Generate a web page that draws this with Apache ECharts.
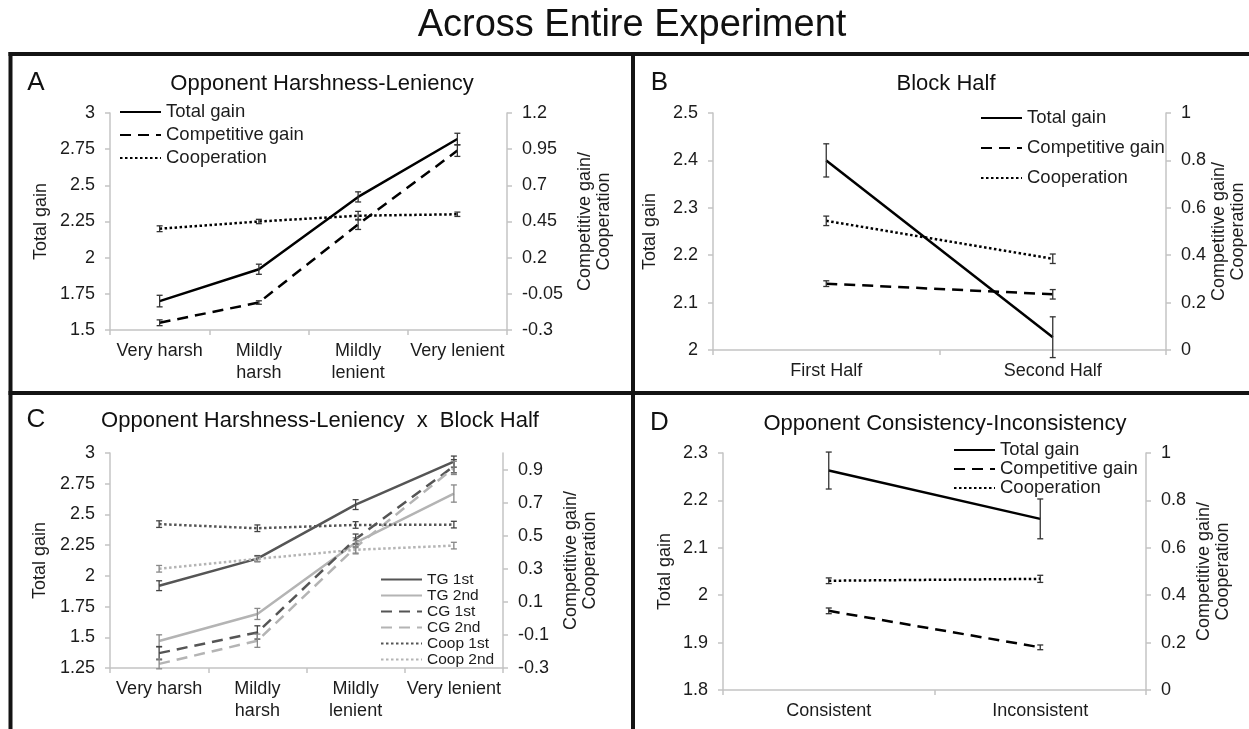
<!DOCTYPE html>
<html><head><meta charset="utf-8">
<script src="https://cdn.jsdelivr.net/npm/echarts@6/dist/echarts.min.js"></script>
<style>html,body{margin:0;padding:0;background:#fff}#c{width:1249px;height:729px}</style>
</head><body><div id="c"></div>
<script>
const FONT = '"Liberation Sans", Arial, Helvetica, sans-serif';
const TXT = '#1c1c1c';
const AXC = '#c4c4c4';

// ---------- categories ----------
const catsHL = ['Very harsh', 'Mildly\nharsh', 'Mildly\nlenient', 'Very lenient'];
const catsHalf = ['First Half', 'Second Half'];
const catsCons = ['Consistent', 'Inconsistent'];

// ---------- Panel A: Opponent Harshness-Leniency ----------
const aTotalGain = [1.70, 1.92, 2.42, 2.82];
const aTotalGainErr = [0.04, 0.035, 0.035, 0.04];
const aCompGain = [-0.25, -0.11, 0.43, 0.94];
const aCompGainErr = [0.02, 0.012, 0.035, 0.04];
const aCoop = [0.40, 0.45, 0.49, 0.50];
const aCoopErr = [0.02, 0.015, 0.03, 0.015];
const aLeftTicks = [1.5, 1.75, 2, 2.25, 2.5, 2.75, 3];
const aRightTicks = [-0.3, -0.05, 0.2, 0.45, 0.7, 0.95, 1.2];

// ---------- Panel B: Block Half ----------
const bTotalGain = [2.40, 2.027];
const bTotalGainErr = [0.035, 0.043];
const bCompGain = [0.28, 0.235];
const bCompGainErr = [0.012, 0.02];
const bCoop = [0.545, 0.385];
const bCoopErr = [0.02, 0.02];
const bLeftTicks = [2, 2.1, 2.2, 2.3, 2.4, 2.5];
const bRightTicks = [0, 0.2, 0.4, 0.6, 0.8, 1];

// ---------- Panel C: Harshness-Leniency x Block Half ----------
const cTG1 = [1.92, 2.14, 2.58, 2.93];
const cTG1Err = [0.04, 0.025, 0.04, 0.045];
const cTG2 = [1.47, 1.69, 2.27, 2.67];
const cTG2Err = [0.05, 0.045, 0.04, 0.07];
const cCG1 = [-0.21, -0.085, 0.48, 0.92];
const cCG1Err = [0.04, 0.04, 0.03, 0.04];
const cCG2 = [-0.275, -0.135, 0.43, 0.91];
const cCG2Err = [0.03, 0.04, 0.04, 0.04];
const cCoop1 = [0.57, 0.545, 0.565, 0.567];
const cCoop1Err = [0.02, 0.02, 0.02, 0.02];
const cCoop2 = [0.30, 0.36, 0.415, 0.44];
const cCoop2Err = [0.02, 0.015, 0.02, 0.02];
const cLeftTicks = [1.25, 1.5, 1.75, 2, 2.25, 2.5, 2.75, 3];
const cRightTicks = [-0.3, -0.1, 0.1, 0.3, 0.5, 0.7, 0.9];
const cRightMax = 1.0;

// ---------- Panel D: Consistency-Inconsistency ----------
const dTotalGain = [2.263, 2.161];
const dTotalGainErr = [0.039, 0.042];
const dCompGain = [0.334, 0.18];
const dCompGainErr = [0.012, 0.01];
const dCoop = [0.461, 0.469];
const dCoopErr = [0.012, 0.015];
const dLeftTicks = [1.8, 1.9, 2, 2.1, 2.2, 2.3];
const dRightTicks = [0, 0.2, 0.4, 0.6, 0.8, 1];

// ---------- styles ----------
const SOLID = 'solid', DASH = [11, 7], DOT = [2.5, 2.5];
const DARK = '#000000', CDARK = '#555555', CLIGHT = '#b4b4b4';

const fmt = v => String(+(+v).toFixed(2));

function xAx(cats, gi) {
  return {
    type: 'category', data: cats, gridIndex: gi, boundaryGap: true,
    axisLine: { show: true, onZero: false, lineStyle: { color: AXC, width: 1.5 } },
    axisTick: { show: true, length: 5, lineStyle: { color: AXC, width: 1.5 } },
    axisLabel: { fontFamily: FONT, fontSize: 18, lineHeight: 22, color: TXT, margin: 10, interval: 0 },
    splitLine: { show: false }
  };
}
function yAx(ticks, gi, pos, name, nameGap, maxOverride) {
  const max = maxOverride !== undefined ? maxOverride : ticks[ticks.length - 1];
  return {
    type: 'value', gridIndex: gi, position: pos,
    min: ticks[0], max: max, interval: +(ticks[1] - ticks[0]).toFixed(4),
    name: name, nameLocation: 'middle', nameGap: nameGap,
    nameTextStyle: { fontFamily: FONT, fontSize: 18, lineHeight: 19, color: TXT },
    axisLine: { show: true, onZero: false, lineStyle: { color: AXC, width: 1.5 } },
    axisTick: { show: true, length: 5, lineStyle: { color: AXC, width: 1.5 } },
    axisLabel: { fontFamily: FONT, fontSize: 18, color: TXT, margin: 15, formatter: fmt,
      showMaxLabel: maxOverride === undefined },
    splitLine: { show: false }
  };
}
function lineS(name, data, xi, yi, color, type, width) {
  return {
    type: 'line', name: name, data: data, xAxisIndex: xi, yAxisIndex: yi,
    symbol: 'none', showSymbol: false, silent: true, animation: false, z: 3,
    lineStyle: { color: color, width: width, type: type, cap: 'butt' },
    itemStyle: { color: color }
  };
}
function errS(vals, errs, xi, yi, color) {
  return {
    type: 'custom', xAxisIndex: xi, yAxisIndex: yi, silent: true, animation: false, z: 4,
    data: vals.map((v, i) => [i, v, errs[i]]),
    encode: { x: 0, y: 1 },
    renderItem: (p, api) => {
      const i = api.value(0), v = api.value(1), e = api.value(2);
      const t = api.coord([i, v + e]), b = api.coord([i, v - e]);
      const x = t[0], w = 3;
      const st = { stroke: color, lineWidth: 1.3 };
      return { type: 'group', children: [
        { type: 'line', shape: { x1: x, y1: t[1], x2: x, y2: b[1] }, style: st },
        { type: 'line', shape: { x1: x - w, y1: t[1], x2: x + w, y2: t[1] }, style: st },
        { type: 'line', shape: { x1: x - w, y1: b[1], x2: x + w, y2: b[1] }, style: st }
      ] };
    }
  };
}
function legendAt(names, left, top, fontSize, lineHeight) {
  return {
    data: names, orient: 'vertical', left: left, top: top, padding: 0,
    itemWidth: 41, itemHeight: 12, itemGap: 0, selectedMode: false,
    itemStyle: { opacity: 0, borderWidth: 0 },
    textStyle: { fontFamily: FONT, fontSize: fontSize, lineHeight: lineHeight, color: TXT }
  };
}
function txt(s, x, y, size, align) {
  return { type: 'text', x: x, y: y, silent: true,
    style: { text: s, fontFamily: FONT, fontSize: size, fill: '#111', align: align || 'center', verticalAlign: 'middle' } };
}
function bar(x, y, w, h) {
  return { type: 'rect', silent: true, shape: { x: x, y: y, width: w, height: h }, style: { fill: '#141414' } };
}

const mainNames = ['Total gain', 'Competitive gain', 'Cooperation'];
const rightName = 'Competitive gain/\nCooperation';

const option = {
  animation: false,
  backgroundColor: '#ffffff',
  grid: [
    { left: 110, top: 113, width: 397, height: 217 },
    { left: 713, top: 113, width: 453, height: 237 },
    { left: 110, top: 453, width: 393, height: 215 },
    { left: 723, top: 453, width: 423, height: 237 }
  ],
  xAxis: [xAx(catsHL, 0), xAx(catsHalf, 1), xAx(catsHL, 2), xAx(catsCons, 3)],
  yAxis: [
    yAx(aLeftTicks, 0, 'left', 'Total gain', 59),
    yAx(aRightTicks, 0, 'right', rightName, 69),
    yAx(bLeftTicks, 1, 'left', 'Total gain', 53),
    yAx(bRightTicks, 1, 'right', rightName, 42),
    yAx(cLeftTicks, 2, 'left', 'Total gain', 60),
    yAx(cRightTicks, 2, 'right', rightName, 59, cRightMax),
    yAx(dLeftTicks, 3, 'left', 'Total gain', 48),
    yAx(dRightTicks, 3, 'right', rightName, 49)
  ],
  legend: [
    legendAt(mainNames, 119, 100.5, 18.5, 23),
    legendAt(mainNames, 980, 103, 18.5, 30),
    legendAt(['TG 1st', 'TG 2nd', 'CG 1st', 'CG 2nd', 'Coop 1st', 'Coop 2nd'], 380, 571.5, 15.5, 15.8),
    legendAt(mainNames, 953, 440.5, 18.5, 18.5)
  ],
  series: [
    // A
    lineS('Total gain', aTotalGain, 0, 0, DARK, SOLID, 2.5),
    lineS('Competitive gain', aCompGain, 0, 1, DARK, DASH, 2.5),
    lineS('Cooperation', aCoop, 0, 1, DARK, DOT, 2.5),
    errS(aTotalGain, aTotalGainErr, 0, 0, '#333'),
    errS(aCompGain, aCompGainErr, 0, 1, '#333'),
    errS(aCoop, aCoopErr, 0, 1, '#333'),
    // B
    lineS('Total gain', bTotalGain, 1, 2, DARK, SOLID, 2.5),
    lineS('Competitive gain', bCompGain, 1, 3, DARK, DASH, 2.5),
    lineS('Cooperation', bCoop, 1, 3, DARK, DOT, 2.5),
    errS(bTotalGain, bTotalGainErr, 1, 2, '#333'),
    errS(bCompGain, bCompGainErr, 1, 3, '#333'),
    errS(bCoop, bCoopErr, 1, 3, '#333'),
    // C
    lineS('TG 1st', cTG1, 2, 4, CDARK, SOLID, 2.5),
    lineS('TG 2nd', cTG2, 2, 4, CLIGHT, SOLID, 2.5),
    lineS('CG 1st', cCG1, 2, 5, CDARK, DASH, 2.5),
    lineS('CG 2nd', cCG2, 2, 5, CLIGHT, DASH, 2.5),
    lineS('Coop 1st', cCoop1, 2, 5, CDARK, DOT, 2.5),
    lineS('Coop 2nd', cCoop2, 2, 5, CLIGHT, DOT, 2.5),
    errS(cTG1, cTG1Err, 2, 4, '#444'),
    errS(cTG2, cTG2Err, 2, 4, '#888'),
    errS(cCG1, cCG1Err, 2, 5, '#444'),
    errS(cCG2, cCG2Err, 2, 5, '#888'),
    errS(cCoop1, cCoop1Err, 2, 5, '#444'),
    errS(cCoop2, cCoop2Err, 2, 5, '#888'),
    // D
    lineS('Total gain', dTotalGain, 3, 6, DARK, SOLID, 2.5),
    lineS('Competitive gain', dCompGain, 3, 7, DARK, DASH, 2.5),
    lineS('Cooperation', dCoop, 3, 7, DARK, DOT, 2.5),
    errS(dTotalGain, dTotalGainErr, 3, 6, '#333'),
    errS(dCompGain, dCompGainErr, 3, 7, '#333'),
    errS(dCoop, dCoopErr, 3, 7, '#333')
  ],
  graphic: [
    txt('Across Entire Experiment', 632, 26, 38),
    // frame
    bar(8.5, 52, 1241, 4),
    bar(8.5, 52, 4, 677),
    bar(631, 52, 4, 677),
    bar(8.5, 391, 1241, 4),
    // panel letters
    txt('A', 36, 83, 26), txt('B', 659.5, 83, 26), txt('C', 36, 420, 26), txt('D', 659.5, 423, 26),
    // panel titles
    txt('Opponent Harshness-Leniency', 322, 84, 22),
    txt('Block Half', 946, 83.5, 22),
    txt('Opponent Harshness-Leniency  x  Block Half', 320, 421, 22),
    txt('Opponent Consistency-Inconsistency', 945, 423.5, 22)
  ]
};

const chart = echarts.init(document.getElementById('c'), null, { renderer: 'canvas' });
chart.setOption(option);
</script>
</body></html>
